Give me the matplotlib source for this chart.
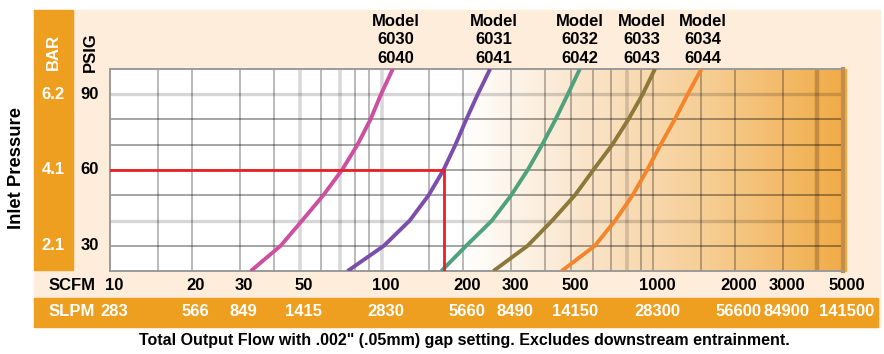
import numpy as np
import matplotlib.pyplot as plt
import matplotlib.transforms as mtransforms
from matplotlib.patches import Rectangle
from matplotlib.colors import LinearSegmentedColormap

plt.rcParams['font.family'] = ['Liberation Sans', 'DejaVu Sans']

# flow (SCFM) at these inlet pressures (PSIG)
psig = [20, 30, 40, 50, 60, 70, 80, 90, 100]
flow_6030 = [33, 42.5, 51, 61, 71.5, 81.5, 91, 99.5, 110]
flow_6031 = [75, 102, 127, 149, 169, 187, 205, 226, 251]
flow_6032 = [166, 205, 255, 300, 345, 390, 437, 485, 537]
flow_6033 = [258, 345, 425, 515, 602, 707, 810, 915, 1015]
flow_6034 = [460, 610, 725, 840, 950, 1065, 1200, 1340, 1505]
model_names = [("6030", "6040"), ("6031", "6041"), ("6032", "6042"),
               ("6033", "6043"), ("6034", "6044")]
label_flow = [113, 258, 537, 905, 1520]
curve_colors = ["#CC4FA0", "#7A4EAA", "#4FA27C", "#8C7838", "#F5842A"]

psig_ticks = [30, 60, 90]
bar_labels = ["2.1", "4.1", "6.2"]
scfm_ticks = [10, 20, 30, 50, 100, 200, 300, 500, 1000, 2000, 3000, 5000]
slpm_labels = ["283", "566", "849", "1415", "2830", "5660", "8490",
               "14150", "28300", "56600", "84900", "141500"]

vgrid = [15, 20, 30, 40, 60, 80, 90, 150, 200, 300, 400, 500, 600, 700,
         900, 1000, 1500, 2000, 3000]
vgrid_light = [50, 70, 100, 800]
vgrid_heavy = [4000]
hgrid = [30, 50, 60, 70, 80]
hgrid_light = [40, 90]

# example operating point (red lines)
op_flow = 170
op_psig = 60

ORANGE = "#EE9F1F"
BEIGE = "#FDEDDA"
W, H = 884, 354
FS = 12


def fx(px):
    return px / W


def fy(py):
    return 1 - py / H


fig = plt.figure(figsize=(W / 100, H / 100), dpi=100)

# background panels
fig.patches.append(Rectangle((fx(34), fy(327)), fx(880) - fx(34), fy(10) - fy(327),
                             transform=fig.transFigure, color=BEIGE, zorder=0))
fig.patches.append(Rectangle((fx(34), fy(270)), fx(73) - fx(34), fy(10) - fy(270),
                             transform=fig.transFigure, color=ORANGE, zorder=1))
fig.patches.append(Rectangle((fx(34), fy(327)), fx(878) - fx(34), fy(298) - fy(327),
                             transform=fig.transFigure, color=ORANGE, zorder=1))
fig.patches.append(Rectangle((fx(842), fy(271)), fx(846) - fx(842), fy(69) - fy(271),
                             transform=fig.transFigure, color="#F2A940", zorder=1))

ax = fig.add_axes([fx(110), fy(271), fx(843) - fx(110), fy(69) - fy(271)])
ax.set_zorder(5)
ax.set_xscale("log")
ax.set_xlim(10, 5000)
ax.set_ylim(20, 100)

# white-to-orange gradient behind the grid
cmap = LinearSegmentedColormap.from_list(
    "fade", [(0.0, "#FFFFFF"), (0.48, "#FFFFFF"), (0.66, "#FAE3C6"),
             (0.82, "#F6CD92"), (1.0, "#F1AC48")])
grad = np.linspace(0, 1, 400).reshape(1, -1)
ax.imshow(grad, cmap=cmap, extent=[0, 1, 0, 1], transform=ax.transAxes,
          aspect="auto", zorder=0)

for v in vgrid:
    ax.axvline(v, color="black", alpha=0.35, lw=1.1, zorder=1)
for v in vgrid_light:
    ax.axvline(v, color="black", alpha=0.15, lw=2.6, zorder=1)
for v in vgrid_heavy:
    ax.axvline(v, color="#6E4A20", alpha=0.35, lw=3.2, zorder=1)
for v in hgrid:
    ax.axhline(v, color="black", alpha=0.38, lw=1.3, zorder=1)
for v in hgrid_light:
    ax.axhline(v, color="black", alpha=0.16, lw=2.4, zorder=1)

for s in ax.spines.values():
    s.set_color("#9A9A9A")
    s.set_linewidth(1.4)
ax.spines["right"].set_color("#C28E4C")
ax.spines["right"].set_linewidth(3)
ax.set_xticks([])
ax.set_yticks([])
ax.minorticks_off()

flows = [flow_6030, flow_6031, flow_6032, flow_6033, flow_6034]
for f, c in zip(flows, curve_colors):
    ax.plot(f, psig, color=c, lw=2.8, solid_capstyle="butt", zorder=3)

ax.plot([10, op_flow], [op_psig, op_psig], color="#E8202A", lw=2.0, zorder=4)
ax.plot([op_flow, op_flow], [20, op_psig], color="#E8202A", lw=2.0, zorder=4)

# model labels above each curve's top end
xfig = mtransforms.blended_transform_factory(ax.transData, fig.transFigure)
for lf, (a, b) in zip(label_flow, model_names):
    ax.text(lf, fy(40), "Model\n%s\n%s" % (a, b), transform=xfig,
            ha="center", va="center", fontsize=FS, fontweight="bold",
            linespacing=1.3, clip_on=False)

# pressure scales on the left
yfig = mtransforms.blended_transform_factory(fig.transFigure, ax.transData)
for p, b in zip(psig_ticks, bar_labels):
    ax.text(fx(90), p, str(p), transform=yfig, ha="center", va="center",
            fontsize=FS, fontweight="bold", clip_on=False)
    ax.text(fx(53), p, b, transform=yfig, ha="center", va="center",
            fontsize=FS, fontweight="bold", color="white", clip_on=False)
fig.text(fx(90), fy(52), "PSIG", rotation=90, ha="center", va="center",
         fontsize=FS, fontweight="bold")
fig.text(fx(53), fy(52), "BAR", rotation=90, ha="center", va="center",
         fontsize=FS, fontweight="bold", color="white")
fig.text(fx(17), fy(168), "Inlet Pressure", rotation=90, ha="center",
         va="center", fontsize=13.3, fontweight="bold")

# flow scales at the bottom (labels sit a few px right of their grid line)
xlab = xfig + mtransforms.ScaledTranslation(4 / 100, 0, fig.dpi_scale_trans)
fig.text(fx(72), fy(285), "SCFM", ha="center", va="center", fontsize=FS,
         fontweight="bold")
fig.text(fx(72), fy(312), "SLPM", ha="center", va="center", fontsize=FS,
         fontweight="bold", color="white")
for v, s in zip(scfm_ticks, slpm_labels):
    ax.text(v, fy(285), str(v), transform=xlab, ha="center", va="center",
            fontsize=FS, fontweight="bold", clip_on=False)
    ax.text(v, fy(312), s, transform=xlab, ha="center", va="center",
            fontsize=FS, fontweight="bold", color="white", clip_on=False)

fig.text(fx(464), fy(341),
         'Total Output Flow with .002" (.05mm) gap setting. Excludes downstream entrainment.',
         ha="center", va="center", fontsize=11.5, fontweight="bold")

fig.savefig("out.png", dpi=100)
